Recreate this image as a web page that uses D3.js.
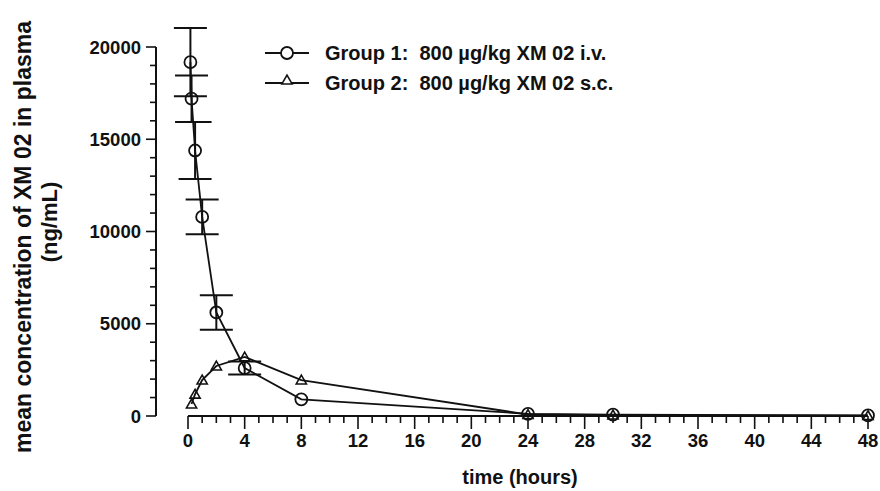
<!DOCTYPE html>
<html><head><meta charset="utf-8">
<script src="https://cdn.jsdelivr.net/npm/d3@7"></script>
<style>
body{margin:0;background:#fff;}
text{font-family:"Liberation Sans",Arial,Helvetica,sans-serif;font-weight:bold;fill:#111;white-space:pre;}
</style></head>
<body><svg id="c" width="880" height="491"></svg>
<script>
// Data
const timesG1 = [0.17, 0.25, 0.5, 1, 2, 4, 8, 24, 30, 48];
const meanG1  = [19180, 17200, 14390, 10790, 5610, 2600, 905, 120, 70, 30];
const sdG1    = [1850, 1260, 1550, 940, 940, 350, 0, 0, 0, 0];
const timesG2 = [0.25, 0.5, 1, 2, 4, 8, 24, 30, 48];
const meanG2  = [650, 1180, 1950, 2710, 3200, 1950, 80, 50, 20];
const xTicks = [0, 4, 8, 12, 16, 20, 24, 28, 32, 36, 40, 44, 48];
const yTicks = [0, 5000, 10000, 15000, 20000];
const legendLabels = ["Group 1:  800 \u00b5g/kg XM 02 i.v.", "Group 2:  800 \u00b5g/kg XM 02 s.c."];
const xTitle = "time (hours)";
const yTitle1 = "mean concentration of XM 02 in plasma";
const yTitle2 = "(ng/mL)";

const svg = d3.select("#c");
const x = d3.scaleLinear().domain([0, 48]).range([188, 868]);
const y = d3.scaleLinear().domain([0, 20000]).range([416, 47]);
const ink = "#111";

// Y axis
const yAxisG = svg.append("g").attr("transform", "translate(156,0)");
yAxisG.append("line").attr("x1",0).attr("x2",0).attr("y1",y(20000)).attr("y2",y(0)).attr("stroke",ink).attr("stroke-width",2);
yAxisG.selectAll("line.minor").data(d3.range(0, 20001, 1000)).join("line")
  .attr("class","minor").attr("x1",0).attr("x2",d => d % 5000 === 0 ? -10 : -6)
  .attr("y1",d=>y(d)).attr("y2",d=>y(d)).attr("stroke",ink).attr("stroke-width",1.6);
yAxisG.selectAll("text").data(yTicks).join("text")
  .attr("x",-15).attr("y",d=>y(d)).attr("dy","0.36em").attr("text-anchor","end")
  .attr("font-size",18.5).text(d=>d);

// X axis
const xAxisG = svg.append("g").attr("transform", "translate(0,416)");
xAxisG.append("line").attr("x1",x(0)).attr("x2",x(48)).attr("y1",0).attr("y2",0).attr("stroke",ink).attr("stroke-width",2);
xAxisG.selectAll("line.minor").data(d3.range(0, 49, 1)).join("line")
  .attr("class","minor").attr("x1",d=>x(d)).attr("x2",d=>x(d))
  .attr("y1",0).attr("y2",d => d % 4 === 0 ? 13 : 7).attr("stroke",ink).attr("stroke-width",1.6);
xAxisG.selectAll("text").data(xTicks).join("text")
  .attr("x",d=>x(d)).attr("y",31).attr("text-anchor","middle")
  .attr("font-size",18.5).text(d=>d);

// Titles
svg.append("text").attr("x",520).attr("y",484).attr("text-anchor","middle").attr("font-size",20).text(xTitle);
svg.append("text").attr("transform","translate(31,237) rotate(-90)").attr("text-anchor","middle").attr("font-size",23).text(yTitle1);
svg.append("text").attr("transform","translate(57,222) rotate(-90)").attr("text-anchor","middle").attr("font-size",22).text(yTitle2);

const line = d3.line().x(d=>x(d[0])).y(d=>y(d[1]));
const g1 = timesG1.map((t,i)=>[t, meanG1[i], sdG1[i]]);
const g2 = timesG2.map((t,i)=>[t, meanG2[i]]);

// Group 1 error bars
const eb = svg.append("g").attr("stroke",ink);
g1.filter(d=>d[2]>0).forEach(d=>{
  eb.append("line").attr("x1",x(d[0])).attr("x2",x(d[0])).attr("y1",y(d[1]+d[2])).attr("y2",y(d[1]-d[2])).attr("stroke-width",2);
  [d[1]+d[2], d[1]-d[2]].forEach(v=>{
    eb.append("line").attr("x1",x(d[0])-16.5).attr("x2",x(d[0])+16.5).attr("y1",y(v)).attr("y2",y(v)).attr("stroke-width",2);
  });
});

svg.append("path").datum(g1).attr("d",line).attr("fill","none").attr("stroke",ink).attr("stroke-width",1.8);
svg.append("path").datum(g2).attr("d",line).attr("fill","none").attr("stroke",ink).attr("stroke-width",1.8);

const tri = d3.symbol().type(d3.symbolTriangle).size(45);
svg.append("g").selectAll("circle").data(g1).join("circle")
  .attr("cx",d=>x(d[0])).attr("cy",d=>y(d[1])).attr("r",6)
  .attr("fill","none").attr("stroke",ink).attr("stroke-width",1.8);
svg.append("g").selectAll("path").data(g2).join("path")
  .attr("d",tri).attr("transform",d=>`translate(${x(d[0])},${y(d[1])+1})`)
  .attr("fill","none").attr("stroke",ink).attr("stroke-width",1.6);

// Legend
const leg = svg.append("g");
[0,1].forEach(i=>{
  const ly = 53 + i*30;
  leg.append("line").attr("x1",265).attr("x2",309).attr("y1",ly).attr("y2",ly).attr("stroke",ink).attr("stroke-width",1.8);
  if(i===0) leg.append("circle").attr("cx",287).attr("cy",ly).attr("r",6).attr("fill","white").attr("stroke",ink).attr("stroke-width",1.8);
  else leg.append("path").attr("d",tri).attr("transform",`translate(287,${ly-2})`).attr("fill","white").attr("stroke",ink).attr("stroke-width",1.6);
  leg.append("text").attr("x",325).attr("y",ly+7).attr("font-size",20).text(legendLabels[i]);
});
</script></body></html>
